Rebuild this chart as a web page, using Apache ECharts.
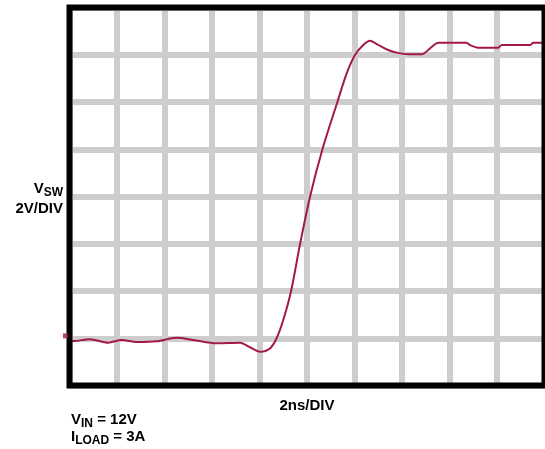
<!DOCTYPE html>
<html><head><meta charset="utf-8">
<script src="https://cdn.jsdelivr.net/npm/echarts@6/dist/echarts.min.js"></script>
<style>html,body{margin:0;padding:0;background:#fff}#c{width:545px;height:449px}</style>
</head><body><div id="c"></div>
<script>
// time in ns (2ns/DIV), switch-node voltage in V (2V/DIV)
const timeNs = [0, 0.16, 0.86, 1.63, 2.20, 2.83, 3.67, 4.51, 5.21, 6.20, 7.18, 7.60, 8.02, 8.44, 8.72, 9.00, 9.33, 9.71, 10.13, 10.65, 11.28, 11.67, 12.02, 12.37, 12.65, 12.94, 13.42, 13.78, 14.27, 14.83, 15.18, 15.53, 16.72, 16.86, 17.21, 18.05, 18.20, 19.39, 19.53, 19.85, 20];
const vswVolts = [-0.10, -0.12, -0.04, -0.19, -0.07, -0.16, -0.13, 0.02, -0.07, -0.21, -0.19, -0.38, -0.57, -0.43, 0.00, 0.77, 2.00, 4.00, 6.00, 8.00, 10.00, 11.21, 11.99, 12.41, 12.59, 12.45, 12.20, 12.09, 12.02, 12.02, 12.27, 12.51, 12.51, 12.41, 12.30, 12.30, 12.41, 12.41, 12.51, 12.51, 12.51];
const groundMarkerTime = [-0.17];
const groundMarkerVolts = [0.1];
const xRange = [0, 20], xStep = 2;
const yRange = [-2, 14], yStep = 2;
const yLabelMain = 'V', yLabelSub = 'SW', yLabelScale = '2V/DIV';
const xLabelScale = '2ns/DIV';
const cond1Main = 'V', cond1Sub = 'IN', cond1Rest = ' = 12V';
const cond2Main = 'I', cond2Sub = 'LOAD', cond2Rest = ' = 3A';

const lineColor = '#a21a43';
const gridColor = '#cdcdcd';
const FONT = '"Liberation Sans", Arial, sans-serif';
const G = {left: 69.5, top: 7.5, width: 475, height: 378};

const rich = {
  m: {fontSize: 15, fontWeight: 'bold', fontFamily: FONT, color: '#000'},
  s: {fontSize: 12, fontWeight: 'bold', fontFamily: FONT, color: '#000', padding: [7, 0, 0, 0]}
};

const chart = echarts.init(document.getElementById('c'), null, {renderer: 'canvas'});
chart.setOption({
  animation: false,
  backgroundColor: '#fff',
  grid: {left: G.left, top: G.top, width: G.width, height: G.height, containLabel: false},
  xAxis: {
    type: 'value', min: xRange[0], max: xRange[1], interval: xStep,
    axisLine: {show: false}, axisTick: {show: false}, axisLabel: {show: false},
    splitLine: {show: true, lineStyle: {color: gridColor, width: 6}}
  },
  yAxis: {
    type: 'value', min: yRange[0], max: yRange[1], interval: yStep,
    axisLine: {show: false}, axisTick: {show: false}, axisLabel: {show: false},
    splitLine: {show: true, lineStyle: {color: gridColor, width: 6}}
  },
  series: [
    {
      type: 'line', data: timeNs.map((t, i) => [t, vswVolts[i]]),
      showSymbol: false, smooth: 0.3, z: 5,
      lineStyle: {color: lineColor, width: 2}
    },
    {
      type: 'scatter', clip: false, z: 120,
      data: groundMarkerTime.map((t, i) => [t, groundMarkerVolts[i]]),
      symbol: 'rect', symbolSize: 5, itemStyle: {color: lineColor}
    }
  ],
  graphic: [
    {type: 'rect', z: 100, silent: true,
     shape: {x: G.left, y: G.top, width: G.width, height: G.height},
     style: {fill: 'none', stroke: '#000', lineWidth: 6}},
    {type: 'text', z: 100, x: 63, y: 189,
     style: {text: '{m|' + yLabelMain + '}{s|' + yLabelSub + '}', rich: rich, align: 'right', verticalAlign: 'middle'}},
    {type: 'text', z: 100, x: 63, y: 208.5,
     style: {text: yLabelScale, font: 'bold 15px ' + FONT, fill: '#000', align: 'right', verticalAlign: 'middle'}},
    {type: 'text', z: 100, x: 307, y: 405.5,
     style: {text: xLabelScale, font: 'bold 15px ' + FONT, fill: '#000', align: 'center', verticalAlign: 'middle'}},
    {type: 'text', z: 100, x: 71, y: 420,
     style: {text: '{m|' + cond1Main + '}{s|' + cond1Sub + '}{m|' + cond1Rest + '}', rich: rich, align: 'left', verticalAlign: 'middle'}},
    {type: 'text', z: 100, x: 71, y: 437,
     style: {text: '{m|' + cond2Main + '}{s|' + cond2Sub + '}{m|' + cond2Rest + '}', rich: rich, align: 'left', verticalAlign: 'middle'}}
  ]
});
</script>
</body></html>
